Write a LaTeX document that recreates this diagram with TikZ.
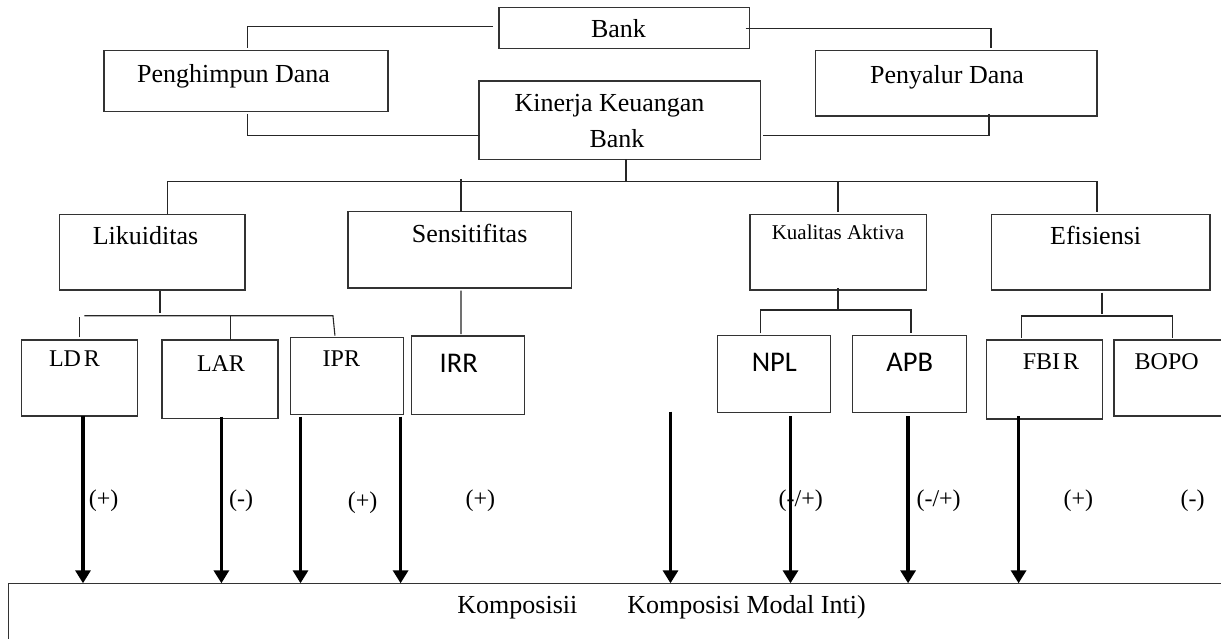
\documentclass[tikz,border=0pt]{standalone}
\usepackage{fontspec}
\setmainfont{Liberation Serif}
\newfontfamily\calfont{Carlito}
\usetikzlibrary{arrows.meta,calc,fit}
\begin{document}
\begin{tikzpicture}[x=1pt,y=-1pt,
  box/.style={draw=black!80, line width=1.1pt, inner sep=0pt, outer sep=0pt},
  conn/.style={draw=black!85, line width=1.1pt},
  arr/.style={draw=black, line width=3.5pt, -{Triangle[width=15pt,length=13pt]}},
  big/.style={font=\fontsize{26}{30}\selectfont, inner sep=0pt, anchor=base},
  mid/.style={font=\fontsize{24}{28}\selectfont, inner sep=0pt, anchor=base},
  small/.style={font=\fontsize{21}{25}\selectfont, inner sep=0pt, anchor=base},
  sans/.style={font=\calfont\fontsize{28.5}{32}\selectfont, inner sep=0pt, anchor=base}]
\useasboundingbox (0,0) rectangle (1221,639);
\clip (0,0) rectangle (1221,639);
\fill[white] (0,0) rectangle (1221,639);
% boxes
\node[box, fit={(499,7.3) (749.7,48.3)}] (bank) {};
\node[box, fit={(104,50.7) (388,111.3)}] (pengh) {};
\node[box, fit={(815.4,50.7) (1097,116)}] (pny) {};
\node[box, fit={(479,81) (760.4,159.3)}] (kin) {};
\node[box, fit={(59.3,214.3) (245,290)}] (lik) {};
\node[box, fit={(348,211.7) (571.8,288)}] (sen) {};
\node[box, fit={(750,214.3) (926.7,290)}] (kua) {};
\node[box, fit={(991.3,214.3) (1210,290)}] (efi) {};
\node[box, fit={(21.4,340) (137.6,416)}] (ldr) {};
\node[box, fit={(162,340) (278,418.3)}] (lar) {};
\node[box, fit={(290.6,337.7) (403.3,414.3)}] (ipr) {};
\node[box, fit={(411.2,336) (524.7,414.3)}] (irr) {};
\node[box, fit={(717.6,335.7) (830.9,412.3)}] (npl) {};
\node[box, fit={(852.7,335.7) (966.3,412.3)}] (apb) {};
\node[box, fit={(986.1,340) (1102.2,419)}] (fbir) {};
\node[box, fit={(1114,340) (1230,416)}] (bopo) {};
\node[box, fit={(8.7,583.3) (1240,660)}] (komp) {};
% texts
\node[big] (tbank) at (618.5,37.3) {Bank};
\node[big] (tpengh) at (233.5,82.3) {Penghimpun Dana};
\node[big] (tpny) at (947,84) {Penyalur Dana};
\node[big] (tkin1) at (609.5,111.7) {Kinerja Keuangan};
\node[big] (tkin2) at (617,147.3) {Bank};
\node[big] (tlik) at (145.5,245) {Likuiditas};
\node[big] (tsen) at (469.6,242.7) {Sensitifitas};
\node[small] (tkua) at (838,240) {Kualitas Aktiva};
\node[big] (tefi) at (1095.6,245) {Efisiensi};
\node[mid] (tldr) at (74.5,366.7) {LD\hspace{3pt}R};
\node[mid] (tlar) at (221,371) {LAR};
\node[mid] (tipr) at (341.4,366.7) {IPR};
\node[sans] (tirr) at (458.7,372.7) {IRR};
\node[sans] (tnpl) at (774.3,371) {NPL};
\node[sans] (tapb) at (909.7,371) {APB};
\node[mid] (tfbir) at (1051,369.3) {FBI\hspace{3pt}R};
\node[mid] (tbopo) at (1166.7,369.3) {BOPO};
\node[mid] (l1) at (103.6,506) {(+)};
\node[mid] (l2) at (241.2,506) {(-)};
\node[mid] (l3) at (362.6,508.3) {(+)};
\node[mid] (l4) at (480.4,506) {(+)};
\node[mid] (l5) at (800.8,506) {(-/+)};
\node[mid] (l6) at (938.6,506) {(-/+)};
\node[mid] (l7) at (1078.4,506) {(+)};
\node[mid] (l8) at (1192.5,506) {(-)};
\node[big] (tk1) at (517.4,613.3) {Komposisii};
\node[big] (tk2) at (746.5,613.3) {Komposisi Modal Inti)};
% connectors top
\draw[conn] ($(bank.west)+(-6,-1)$) -| ($(pengh.north)+(1.5,-2.4)$);
\draw[conn] ($(bank.east)+(-4,1)$) -| ($(pny.north)+(34.8,-2.4)$);
\draw[conn] ($(pengh.south)+(1.5,2.7)$) |- ($(kin.west)+(1,15.2)$);
\draw[conn] ($(pny.south)+(32.8,-2)$) |- ($(kin.east)+(2.6,15.2)$);
% second level
\draw[conn] ($(kin.south)+(6.3,0)$) -- ++(0,22.4);
\draw[conn] ($(lik.north)+(15.15,0)$) -- ++(0,-32.6) -| ($(efi.north)+(-3.65,-2.6)$);
\draw[conn] ($(sen.north)+(1.1,-32.7)$) -- ($(sen.north)+(1.1,0)$);
\draw[conn] ($(kua.north)+(-0.35,-32.6)$) -- ($(kua.north)+(-0.35,-2.6)$);
% third level
\draw[conn] ($(lik.south)+(7.85,1)$) -- ++(0,22.3);
\draw[conn] ($(ldr.north)+(-0.1,-2.7)$) -- ++(0,-20.6);
\draw[conn] ($(ldr.north)+(4.8,-24.3)$) -- ($(ipr.north)+(-14,-22)$) -- ($(ipr.north)+(-12,-2)$);
\draw[conn] ($(lar.north)+(10.5,-24)$) -- (lar.north -| {$(lar.north)+(10.5,0)$});
\draw[conn] ($(sen.south)+(1.1,2.7)$) -- ($(irr.north)+(-7,-2)$);
\draw[conn] ($(kua.south)+(-0.35,-2)$) -- ++(0,21.3);
\draw[conn] ($(npl.north)+(-13.85,-2.4)$) |- ($(apb.north)+(1.5,-25.7)$) -- ($(apb.north)+(1.5,-2.4)$);
\draw[conn] ($(efi.south)+(1.35,2.7)$) -- ++(0,21.3);
\draw[conn] ($(fbir.north)+(-22.35,-2.3)$) |- ($(bopo.north)+(0.3,-24)$) -- ($(bopo.north)+(0.3,-2.3)$);
% arrows
\coordinate (a1) at (83,0);
\coordinate (a2) at (221.4,0);
\coordinate (a3) at (300.5,0);
\coordinate (a4) at (400.6,0);
\coordinate (a5) at (670.5,411.7);
\coordinate (a6) at (790.5,0);
\coordinate (a7) at (908.1,0);
\coordinate (a8) at (1018.6,0);
\draw[arr] (a1 |- ldr.south) -- (a1 |- komp.north);
\draw[arr] ($(a2 |- lar.south)+(0,-1.6)$) -- (a2 |- komp.north);
\draw[arr] ($(a3 |- ipr.south)+(0,2.4)$) -- (a3 |- komp.north);
\draw[arr] ($(a4 |- ipr.south)+(0,2.4)$) -- (a4 |- komp.north);
\draw[arr] (a5) -- (a5 |- komp.north);
\draw[arr] ($(a6 |- npl.south)+(0,3.7)$) -- (a6 |- komp.north);
\draw[arr] ($(a7 |- apb.south)+(0,3.7)$) -- (a7 |- komp.north);
\draw[arr] ($(a8 |- fbir.south)+(0,-3)$) -- (a8 |- komp.north);
\end{tikzpicture}
\end{document}
